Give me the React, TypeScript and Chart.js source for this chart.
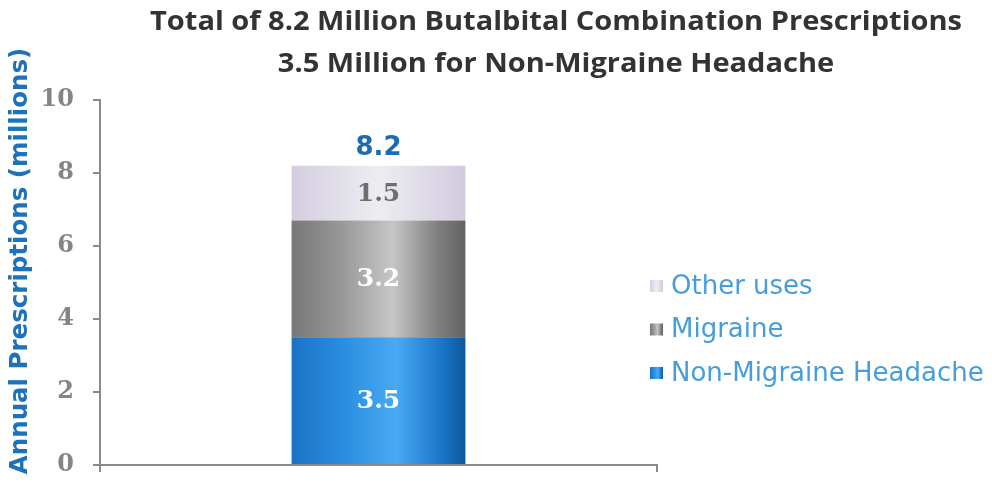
import React, { useEffect, useRef } from "react";
import { Chart, registerables } from "chart.js";

Chart.register(...registerables);

const categories = [""];
const seriesNames = ["Non-Migraine Headache", "Migraine", "Other uses"];
const nonMigraine = [3.5];
const migraine = [3.2];
const otherUses = [1.5];
const totalLabel = ["8.2"];
const yTicks = [0, 2, 4, 6, 8, 10];
const titleLines = [
  "Total of 8.2 Million Butalbital Combination Prescriptions",
  "3.5 Million for Non-Migraine Headache",
];
const yTitle = "Annual Prescriptions (millions)";

const BAR_PCT = 0.312;

const gradStops: Record<string, [number, string][]> = {
  blue: [
    [0, "#1a72c6"],
    [0.3, "#2a8ee0"],
    [0.6, "#49aaf3"],
    [0.85, "#1c78ca"],
    [1, "#0a589c"],
  ],
  grey: [
    [0, "#777777"],
    [0.3, "#9a9a9a"],
    [0.58, "#c6c6c6"],
    [0.85, "#7d7d7d"],
    [1, "#636363"],
  ],
  lav: [
    [0, "#d4cde0"],
    [0.5, "#ededf1"],
    [1, "#d2cadf"],
  ],
};
const solid: Record<string, string> = { blue: "#2a8ee0", grey: "#999999", lav: "#e2dde9" };
const labelColors = ["#ffffff", "#ffffff", "#6e6e6e"];

function makeGrad(ctx: CanvasRenderingContext2D, x0: number, x1: number, key: string) {
  const g = ctx.createLinearGradient(x0, 0, x1, 0);
  gradStops[key].forEach(([o, c]) => g.addColorStop(o, c));
  return g;
}

function barBg(key: string) {
  return (c: any) => {
    const chart = c.chart;
    const area = chart.chartArea;
    const xs = chart.scales && chart.scales.x;
    if (!area || !xs) return solid[key];
    const center = xs.getPixelForValue(0);
    const w = (area.right - area.left) * BAR_PCT;
    return makeGrad(chart.ctx, center - w / 2, center + w / 2, key);
  };
}

const keys = ["blue", "grey", "lav"];

const customDraw = {
  id: "customDraw",
  afterDraw(chart: any) {
    const ctx = chart.ctx as CanvasRenderingContext2D;
    ctx.save();
    // Title
    ctx.fillStyle = "#333333";
    ctx.textAlign = "center";
    ctx.textBaseline = "middle";
    ctx.font = "bold 27px 'Open Sans'";
    const w1 = ctx.measureText(titleLines[0]).width;
    const sx = 812 / w1;
    titleLines.forEach((t, i) => {
      ctx.save();
      ctx.translate(556, i === 0 ? 22 : 64);
      ctx.scale(sx, 1);
      ctx.fillText(t, 0, 0);
      ctx.restore();
    });

    // Y axis title
    ctx.save();
    ctx.translate(21, 261);
    ctx.rotate(-Math.PI / 2);
    ctx.font = "bold 24.5px 'DejaVu Sans'";
    ctx.fillStyle = "#1d72bb";
    ctx.fillText(yTitle, 0, 0);
    ctx.restore();

    // Data labels
    ctx.textAlign = "center";
    ctx.textBaseline = "middle";
    chart.data.datasets.forEach((ds: any, i: number) => {
      const meta = chart.getDatasetMeta(i);
      meta.data.forEach((bar: any) => {
        const y = (bar.y + bar.base) / 2;
        ctx.font = "bold 25px 'DejaVu Serif'";
        ctx.fillStyle = labelColors[i];
        ctx.fillText(String(ds.data[0]), bar.x, y + 1);
      });
    });
    const topMeta = chart.getDatasetMeta(chart.data.datasets.length - 1);
    const topBar = topMeta.data[0];
    if (topBar) {
      ctx.font = "bold 26px 'DejaVu Sans'";
      ctx.fillStyle = "#1e6cb0";
      ctx.fillText(totalLabel[0], topBar.x, topBar.y - 17);
    }

    // Legend (reversed)
    const rowsY = [286, 329.5, 373];
    const order = [2, 1, 0];
    ctx.textAlign = "left";
    ctx.font = "26px 'DejaVu Sans'";
    order.forEach((di, r) => {
      const y = rowsY[r];
      const bx = 650;
      const bw = 13;
      ctx.fillStyle = makeGrad(ctx, bx, bx + bw, keys[di]);
      ctx.fillRect(bx, y - 6, bw, 12);
      ctx.fillStyle = "#459edb";
      ctx.fillText(chart.data.datasets[di].label, 671, y + 1);
    });
    ctx.restore();
  },
};

export default function App() {
  const ref = useRef<HTMLCanvasElement | null>(null);
  useEffect(() => {
    if (!ref.current) return;
    const dataArrays = [nonMigraine, migraine, otherUses];
    const chart = new Chart(ref.current, {
      type: "bar",
      data: {
        labels: categories,
        datasets: seriesNames.map((name, i) => ({
          label: name,
          data: dataArrays[i],
          backgroundColor: barBg(keys[i]) as any,
          borderWidth: 0,
          barPercentage: BAR_PCT,
          categoryPercentage: 1,
        })),
      },
      options: {
        responsive: true,
        maintainAspectRatio: false,
        animation: false,
        layout: { padding: { top: 100, right: 335, left: 0, bottom: 0 } },
        plugins: {
          legend: { display: false },
          title: { display: false },
          tooltip: { enabled: false },
        },
        scales: {
          x: {
            type: "category",
            stacked: true,
            offset: true,
            grid: {
              offset: true,
              drawOnChartArea: false,
              drawTicks: true,
              tickLength: 7,
              color: "#8a8a8a",
              lineWidth: 2,
            },
            border: { color: "#8a8a8a", width: 2 },
            ticks: { display: true },
            afterFit: (s: any) => {
              s.height = 21;
            },
          },
          y: {
            stacked: true,
            min: 0,
            max: 10,
            afterBuildTicks: (s: any) => {
              s.ticks = yTicks.map((v) => ({ value: v }));
            },
            ticks: {
              font: { family: "'DejaVu Serif'", size: 24, weight: "bold" },
              color: "#858585",
              padding: 19,
            },
            grid: {
              drawOnChartArea: false,
              drawTicks: true,
              tickLength: 7,
              color: "#8a8a8a",
              lineWidth: 2,
            },
            border: { color: "#8a8a8a", width: 2 },
            afterFit: (s: any) => {
              s.width = 100;
              s.paddingTop = 0;
              s.paddingBottom = 0;
            },
          },
        },
      },
      plugins: [customDraw],
    });
    return () => chart.destroy();
  }, []);
  return (
    <div style={{ position: "fixed", left: 0, top: 0, width: 992, height: 486, background: "#fff" }}>
      <canvas ref={ref} />
    </div>
  );
}
